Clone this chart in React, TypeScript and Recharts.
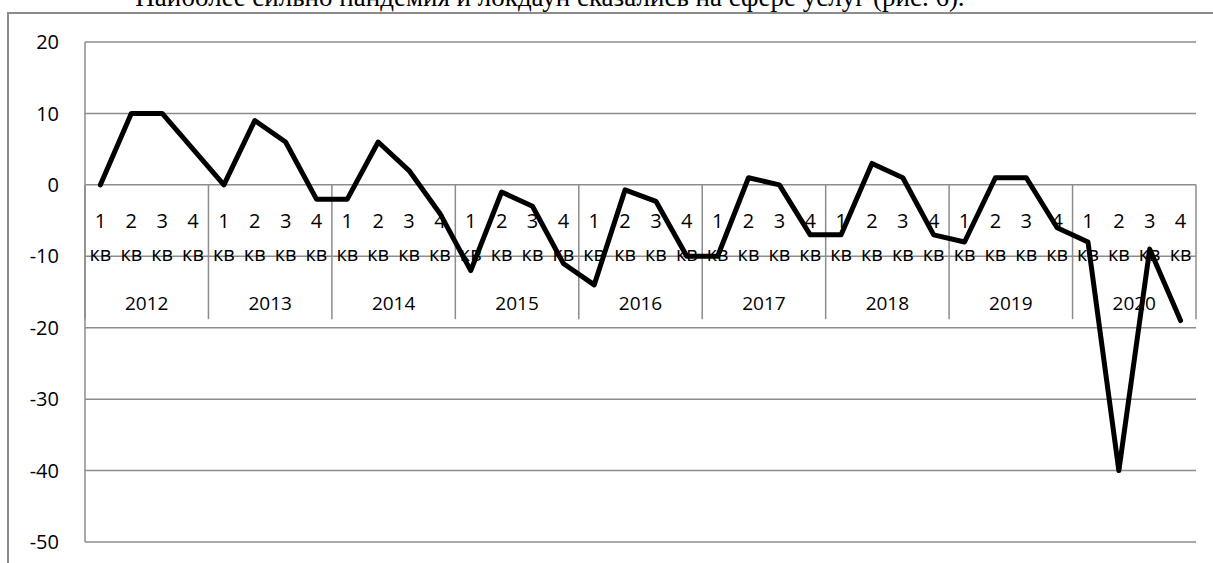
import React from "react";
import {
  ComposedChart,
  Line,
  Scatter,
  XAxis,
  YAxis,
  CartesianGrid,
  ReferenceLine,
} from "recharts";

const years = ["2012", "2013", "2014", "2015", "2016", "2017", "2018", "2019", "2020"];
const quarters = ["1", "2", "3", "4"];
const yTicks = [-50, -40, -30, -20, -10, 0, 10, 20];

// quarterly values, 2012 Q1 .. 2020 Q4
const values = [
  0, 10, 10, 5,
  0, 9, 6, -2,
  -2, 6, 2, -4,
  -12, -1, -3, -11,
  -14, -0.7, -2.3, -10,
  -10, 1, 0, -7,
  -7, 3, 1, -7,
  -8, 1, 1, -6,
  -8, -40, -9, -19,
];

const rows = values.map((v, i) => ({ idx: i + 1, value: v }));
const quarterRows = values.map((_, i) => ({ idx: i + 1, zero: 0, q: quarters[i % 4] }));
const yearRows = years.map((y, k) => ({ idx: k * 4 + 2.5, zero: 0, year: y }));
const separators = Array.from({ length: years.length + 1 }, (_, k) => k * 4 + 0.5);

const font = "'Open Sans', 'Noto Sans', sans-serif";
const grey = "#8c8c8c";

const QuarterLabel = (props: any) => {
  const { cx, cy, payload } = props;
  return (
    <g>
      <text x={cx} y={cy + 36} textAnchor="middle" dominantBaseline="central" fontSize={20} fontFamily={font} fill="#000">
        {payload.q}
      </text>
      <text x={cx} y={cy + 69} textAnchor="middle" dominantBaseline="central" fontSize={20} fontFamily={font} fill="#000">
        кв
      </text>
    </g>
  );
};

const YearLabel = (props: any) => {
  const { cx, cy, payload } = props;
  return (
    <text x={cx} y={cy + 118} textAnchor="middle" dominantBaseline="central" fontSize={19} fontFamily={font} fill="#000">
      {payload.year}
    </text>
  );
};

export default function App() {
  return (
    <div style={{ position: "absolute", left: 0, top: 0, width: 1213, height: 563, overflow: "hidden", background: "#fff" }}>
      <div
        style={{
          position: "absolute",
          left: 0,
          width: 1100,
          top: -18,
          textAlign: "center",
          fontFamily: "'Liberation Serif', 'Times New Roman', serif",
          fontSize: 27,
          whiteSpace: "nowrap",
          color: "#000",
        }}
      >
        Наиболее сильно пандемия и локдаун сказались на сфере услуг (рис. 6).
      </div>
      <div
        style={{
          position: "absolute",
          left: 7,
          top: 12,
          width: 1220,
          height: 600,
          borderLeft: `2px solid ${grey}`,
          borderTop: `2px solid ${grey}`,
        }}
      />
      <div style={{ position: "absolute", left: 0, top: 0 }}>
        <ComposedChart width={1213} height={563} data={rows} margin={{ top: 42, right: 17, bottom: 21, left: 25 }}>
          <CartesianGrid vertical={false} stroke={grey} strokeWidth={1.5} />
          <XAxis dataKey="idx" type="number" domain={[0.5, 36.5]} hide />
          <YAxis
            domain={[-50, 20]}
            ticks={yTicks}
            width={60}
            axisLine={{ stroke: grey, strokeWidth: 1.5 }}
            tickLine={false}
            tickSize={0}
            tickMargin={26}
            tick={{ fontSize: 20, fontFamily: font, fill: "#000" }}
          />
          {separators.map((s) => (
            <ReferenceLine
              key={s}
              segment={[
                { x: s, y: 0 },
                { x: s, y: -18.8 },
              ]}
              stroke={grey}
              strokeWidth={1.5}
            />
          ))}
          <Scatter data={quarterRows} dataKey="zero" shape={QuarterLabel} isAnimationActive={false} />
          <Scatter data={yearRows} dataKey="zero" shape={YearLabel} isAnimationActive={false} />
          <Line
            dataKey="value"
            stroke="#000"
            strokeWidth={5}
            dot={false}
            strokeLinejoin="round"
            strokeLinecap="round"
            isAnimationActive={false}
          />
        </ComposedChart>
      </div>
    </div>
  );
}
